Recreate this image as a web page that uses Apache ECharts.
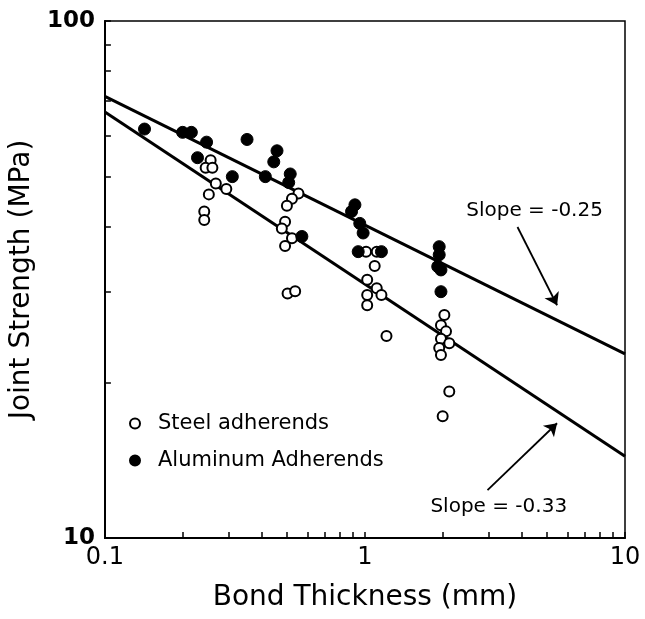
<!DOCTYPE html>
<html>
<head>
<meta charset="utf-8">
<script src="https://cdn.jsdelivr.net/npm/echarts@6/dist/echarts.min.js"></script>
<style>
html,body{margin:0;padding:0;background:#fff;}
#chart{width:645px;height:619px;}
</style>
</head>
<body>
<div id="chart"></div>
<script>
// Data
var steelAdherends = [
  [0.255,53.8],[0.244,52.0],[0.259,52.0],[0.267,48.5],[0.293,47.3],[0.251,46.2],[0.241,42.8],[0.241,41.2],
  [0.555,46.4],[0.524,45.3],[0.501,43.9],[0.493,40.9],[0.479,39.7],[0.524,38.0],[0.493,36.7],[0.504,29.7],[0.539,30.0],
  [1.01,35.8],[1.11,35.8],[1.09,33.6],[1.02,31.6],[1.11,30.4],[1.02,29.5],[1.157,29.5],[1.02,28.2],[1.21,24.6],
  [2.02,27.0],[1.96,25.8],[2.05,25.1],[1.96,24.3],[2.11,23.8],[1.93,23.3],[1.96,22.6],[2.11,19.2],[1.99,17.2]
];
var aluminumAdherends = [
  [0.142,61.8],[0.199,60.9],[0.215,60.9],[0.246,58.3],[0.227,54.4],[0.309,50.0],
  [0.352,59.0],[0.459,56.1],[0.446,53.4],[0.414,50.0],[0.516,50.6],[0.509,48.7],[0.572,38.3],
  [0.915,44.1],[0.888,42.8],[0.955,40.6],[0.984,38.9],[0.942,35.8],[1.157,35.8],
  [1.93,36.6],[1.93,35.3],[1.905,33.5],[1.96,33.0],[1.96,29.95]
];
var upperFitLine = [[0.1,71.5],[10,22.7]];
var lowerFitLine = [[0.1,66.7],[10,14.4]];
var upperArrow = [[3.86,39.95],[5.48,28.2]];
var lowerArrow = [[2.96,12.38],[5.48,16.67]];
var annotations = [
  {text:'Slope = -0.25', pos:[4.49,42.9]},
  {text:'Slope = -0.33', pos:[3.27,11.48]}
];
var xTickLabels = [0.1,1,10];
var yTickLabels = [10,100];
var xTicks = [0.1,0.2,0.3,0.4,0.5,0.6,0.7,0.8,0.9,1,2,3,4,5,6,7,8,9,10];
var yTicks = [10,20,30,40,50,60,70,80,90,100];
var seriesNames = ['Steel adherends','Aluminum Adherends'];

var FONT = 'DejaVu Sans';
var chart = echarts.init(document.getElementById('chart'));
chart.setOption({
  backgroundColor:'#ffffff',
  animation:false,
  grid:{left:102,right:20,top:21,bottom:81,show:true,borderColor:'#000',borderWidth:1.5,backgroundColor:'transparent'},
  legend:{
    data:seriesNames,orient:'vertical',left:124,top:408,itemWidth:36,itemHeight:10,itemGap:16,
    textStyle:{fontFamily:FONT,fontSize:21,color:'#000'}
  },
  xAxis:{
    type:'log',logBase:10,min:0.1,max:10,
    name:'Bond Thickness (mm)',nameLocation:'middle',nameGap:46,
    nameTextStyle:{fontFamily:FONT,fontSize:28,color:'#000'},
    axisLine:{show:true,lineStyle:{color:'#000',width:2}},
    axisTick:{show:true,inside:true,length:6,lineStyle:{color:'#000',width:1.5},customValues:xTicks},
    axisLabel:{fontFamily:FONT,fontSize:24,color:'#000',margin:8,customValues:xTickLabels,
      formatter:function(v){return String(v);}},
    splitLine:{show:false},minorTick:{show:false}
  },
  yAxis:{
    type:'log',logBase:10,min:10,max:100,
    name:'Joint Strength (MPa)',nameLocation:'middle',nameGap:53,
    nameTextStyle:{fontFamily:FONT,fontSize:28,color:'#000'},
    axisLine:{show:true,lineStyle:{color:'#000',width:2}},
    axisTick:{show:true,inside:true,length:6,lineStyle:{color:'#000',width:1.5},customValues:yTicks},
    axisLabel:{fontFamily:FONT,fontSize:23,fontWeight:'bold',color:'#000',margin:10,customValues:yTickLabels,
      formatter:function(v){return String(v);}},
    splitLine:{show:false},minorTick:{show:false}
  },
  series:[
    {type:'line',data:upperFitLine,symbol:'none',lineStyle:{color:'#000',width:3},z:1,silent:true},
    {type:'line',data:lowerFitLine,symbol:'none',lineStyle:{color:'#000',width:3},z:1,silent:true},
    {name:seriesNames[0],type:'scatter',data:steelAdherends,symbol:'circle',symbolSize:10,
      itemStyle:{color:'#fff',borderColor:'#000',borderWidth:2,opacity:1},z:3},
    {name:seriesNames[1],type:'scatter',data:aluminumAdherends,symbol:'circle',symbolSize:12,
      itemStyle:{color:'#000',borderColor:'#000',borderWidth:1,opacity:1},z:4},
    {type:'lines',coordinateSystem:'cartesian2d',symbol:['none','arrow'],symbolSize:12,
      lineStyle:{color:'#000',width:1.8,opacity:1},
      data:[{coords:upperArrow},{coords:lowerArrow}],silent:true,z:5},
    {type:'scatter',symbolSize:0,silent:true,z:6,itemStyle:{opacity:1},
      data:annotations.map(function(a){return {value:a.pos,name:a.text};}),
      label:{show:true,position:[0,0],align:'center',verticalAlign:'middle',formatter:function(p){return p.name;},
        fontFamily:FONT,fontSize:20,color:'#000',opacity:1}}
  ]
});
</script>
</body>
</html>
